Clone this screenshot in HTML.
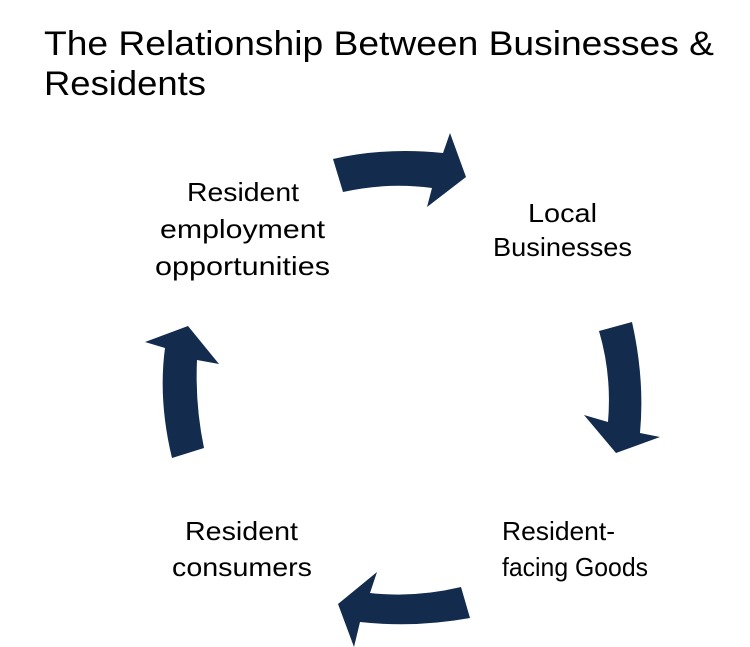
<!DOCTYPE html>
<html><head><style>html,body{margin:0;padding:0;background:#fff}svg{display:block}</style></head>
<body>
<svg width="750" height="647" viewBox="0 0 750 647" xmlns="http://www.w3.org/2000/svg" font-family="Liberation Sans, sans-serif">
<text x="44" y="55" font-size="34" textLength="670" lengthAdjust="spacingAndGlyphs">The Relationship Between Businesses &amp;</text>
<text x="44" y="95" font-size="34" textLength="162" lengthAdjust="spacingAndGlyphs">Residents</text>
<g fill="#132b4d">
<path d="M333,159 Q385,147 443,153 L450,133 L466,177 L427,207 L432,188 Q388,182 343,192 Z"/>
<path d="M599,331 L632,322 Q645,380 640,433 L660,437 L616,453 L584,415 L608,422 Q612,375 599,331 Z"/>
<path d="M461,587 L470,618 Q415,628 360,622 L354,647 L338,604 L377,572 L370,593 Q415,598 461,587 Z"/>
<path d="M172,458 Q158,400 165,348 L145,342 L188,326 L219,364 L197,360 Q195,405 204,448 Z"/>
</g>
<g font-size="26" fill="#000">
<text x="187" y="201" textLength="112" lengthAdjust="spacingAndGlyphs">Resident</text>
<text x="160" y="238" textLength="165" lengthAdjust="spacingAndGlyphs">employment</text>
<text x="155" y="275" textLength="175" lengthAdjust="spacingAndGlyphs">opportunities</text>
<text x="528" y="222" textLength="69" lengthAdjust="spacingAndGlyphs">Local</text>
<text x="493" y="256" textLength="139" lengthAdjust="spacingAndGlyphs">Businesses</text>
<text x="502" y="540" textLength="113" lengthAdjust="spacingAndGlyphs">Resident-</text>
<text x="502" y="576" textLength="146" lengthAdjust="spacingAndGlyphs">facing Goods</text>
<text x="185" y="540" textLength="113" lengthAdjust="spacingAndGlyphs">Resident</text>
<text x="172" y="576" textLength="140" lengthAdjust="spacingAndGlyphs">consumers</text>
</g>
</svg>
</body></html>
